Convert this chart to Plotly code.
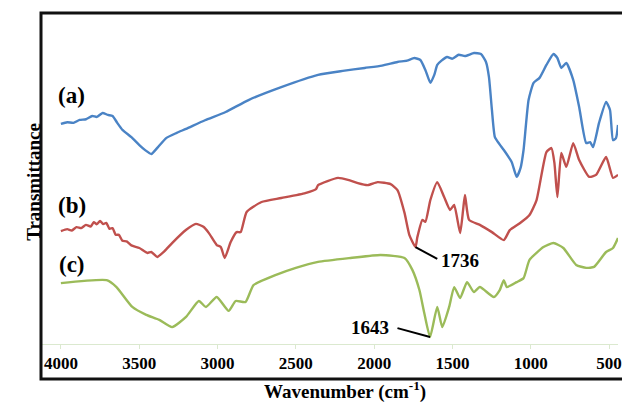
import plotly.graph_objects as go

# FTIR spectra (transmittance in arbitrary units, curves offset vertically)
wn_a = [4000, 3960, 3920, 3880, 3840, 3800, 3770, 3734, 3700, 3670, 3640, 3607, 3550, 3499,
        3460, 3423, 3380, 3328, 3260, 3201, 3080, 2948, 2802, 2593, 2358, 2200, 2060,
        1950, 1851, 1790, 1743, 1705, 1673, 1641, 1616, 1597, 1570, 1534, 1500, 1460,
        1420, 1362, 1318, 1286, 1267, 1248, 1229, 1200, 1172, 1122, 1090, 1065, 1046,
        1014, 982, 944, 900, 855, 830, 805, 773, 729, 691, 646, 621, 602, 564, 519,
        494, 475, 456, 443]
tr_a = [66.5, 67.0, 66.8, 67.7, 67.9, 68.9, 68.6, 69.8, 69.2, 68.9, 66.8, 64.7, 62.5, 60.1,
        58.5, 57.4, 59.5, 62.2, 63.8, 65.0, 67.6, 70.1, 73.7, 77.6, 81.3, 82.5, 83.4,
        84.1, 85.2, 85.6, 86.4, 85.8, 82.8, 78.9, 81.3, 84.3, 85.6, 86.7, 86.2, 87.4,
        87.0, 87.9, 87.6, 85.2, 80.7, 70.7, 62.5, 60.4, 58.6, 55.0, 50.5, 53.2, 58.6,
        73.7, 78.9, 80.4, 84.3, 87.6, 86.4, 83.4, 84.9, 79.8, 71.6, 60.7, 61.0, 59.5, 66.8, 73.1,
        70.7, 61.6, 62.2, 66.2]

wn_b = [4000, 3960, 3930, 3900, 3870, 3840, 3810, 3790, 3770, 3750, 3730, 3710, 3690, 3670,
        3650, 3630, 3607, 3580, 3550, 3499, 3448, 3423, 3385, 3340, 3290, 3200, 3138,
        3090, 3055, 3005, 2979, 2954, 2916, 2878, 2852, 2814, 2719, 2593, 2440, 2371,
        2358, 2231, 2160, 2104, 2041, 1978, 1895, 1851, 1806, 1775, 1736, 1724, 1692,
        1673, 1641, 1597, 1553, 1515, 1489, 1451, 1432, 1420, 1394, 1325, 1248, 1172,
        1134, 1070, 1008, 963, 900, 868, 849, 830, 805, 773, 729, 691, 627, 583, 519,
        475, 443]
tr_b = [34.1, 34.7, 34.3, 35.3, 35.0, 36.0, 35.5, 36.8, 36.2, 37.2, 36.2, 36.6, 34.8, 35.0,
        33.0, 33.0, 31.2, 31.0, 29.8, 29.0, 27.5, 27.8, 26.3, 28.0, 30.5, 34.5, 36.3,
        35.4, 33.5, 29.9, 29.3, 26.0, 30.8, 33.8, 33.8, 39.9, 42.9, 44.1, 45.6, 46.8,
        48.0, 50.2, 49.5, 48.6, 48.0, 48.9, 48.3, 46.5, 39.6, 32.9, 29.3, 32.3, 37.5,
        36.9, 43.5, 48.9, 44.4, 40.5, 42.0, 33.5, 40.5, 45.0, 37.5, 36.0, 33.8, 31.4,
        34.4, 36.5, 39.0, 43.5, 58.0, 59.2, 54.7, 44.4, 57.7, 53.5, 60.7, 55.6, 50.5, 51.1, 56.5,
        50.2, 51.1]

wn_c = [4000, 3708, 3645, 3544, 3455, 3372, 3290, 3201, 3119, 3074, 3005, 2929, 2884, 2821,
        2770, 2631, 2500, 2358, 2150, 1959, 1806, 1756, 1711, 1680, 1643, 1597, 1565,
        1521, 1489, 1451, 1407, 1363, 1325, 1236, 1198, 1172, 1153, 1090, 1046, 1008,
        919, 855, 792, 710, 646, 596, 519, 475, 443]
tr_c = [18.4, 19.3, 17.2, 11.2, 8.8, 7.3, 5.1, 8.2, 13.0, 11.2, 14.2, 10.0, 13.0, 12.7,
        17.8, 20.8, 23.0, 24.8, 26.0, 26.9, 26.0, 22.4, 16.3, 9.4, 2.1, 11.2, 5.1,
        11.2, 17.2, 13.9, 18.7, 15.7, 17.2, 14.2, 16.3, 19.3, 17.2, 18.7, 19.9, 25.4,
        29.3, 30.5, 29.0, 23.9, 23.0, 23.3, 27.8, 29.0, 32.0]

tick_vals = [4000, 3500, 3000, 2500, 2000, 1500, 1000, 500]
series_labels = ["(a)", "(b)", "(c)"]
peak_labels = ["1736", "1643"]

SERIF = "Liberation Serif, Times New Roman, serif"

fig = go.Figure()
for wn, tr, col in [(wn_a, tr_a, "#4a83c5"), (wn_b, tr_b, "#c0504d"), (wn_c, tr_c, "#9bbb59")]:
    fig.add_trace(go.Scatter(x=wn, y=tr, mode="lines",
                             line=dict(color=col, width=2.4, shape="spline", smoothing=0.5),
                             showlegend=False, hoverinfo="skip"))

# series labels
for lab, xv, yv in zip(series_labels, [3930, 3928, 3930], [75.2, 41.7, 23.9]):
    fig.add_annotation(x=xv, y=yv, text="<b>%s</b>" % lab, showarrow=False,
                       font=dict(family=SERIF, size=23, color="black"))

# peak markers: leader lines and labels
fig.add_shape(type="line", x0=1736, y0=29.3, x1=1597, y1=25.7,
              line=dict(color="black", width=2))
fig.add_annotation(x=1588, y=25.2, text="<b>%s</b>" % peak_labels[0], showarrow=False,
                   xanchor="left", font=dict(family=SERIF, size=19, color="black"))
fig.add_shape(type="line", x0=1643, y0=2.1, x1=1851, y1=4.8,
              line=dict(color="black", width=2))
fig.add_annotation(x=1895, y=4.9, text="<b>%s</b>" % peak_labels[1], showarrow=False,
                   xanchor="right", font=dict(family=SERIF, size=19, color="black"))

# axis titles
fig.add_annotation(xref="paper", yref="paper", x=0.526, y=-0.1, yanchor="top", borderpad=0,
                   text="<b>Wavenumber (cm<sup>-1</sup>)</b>", showarrow=False,
                   font=dict(family=SERIF, size=19, color="black"))
fig.add_annotation(xref="paper", yref="paper", x=-0.036, y=0.489, textangle=-90,
                   text="<b>Transmittance</b>", showarrow=False,
                   font=dict(family=SERIF, size=19, color="black"))

# outer frame around plot and tick labels
fig.add_shape(type="rect", xref="paper", yref="paper", x0=0, x1=1.05, y0=-0.1057, y1=1,
              line=dict(color="#111111", width=3), layer="above")

fig.update_layout(
    width=622, height=403,
    margin=dict(l=41, r=0, t=13, b=59),
    paper_bgcolor="white", plot_bgcolor="white",
    xaxis=dict(range=[4127, 443], tickvals=tick_vals, showgrid=False, zeroline=False,
               showline=True, linecolor="#dbe9cf", linewidth=1,
               ticks="outside", ticklen=4, tickcolor="#dbe9cf",
               ticklabeloverflow="allow",
               tickfont=dict(family=SERIF, size=17, color="black", weight="bold")),
    yaxis=dict(range=[0, 100], visible=False, showgrid=False, zeroline=False),
)

fig.write_html("out.html")
